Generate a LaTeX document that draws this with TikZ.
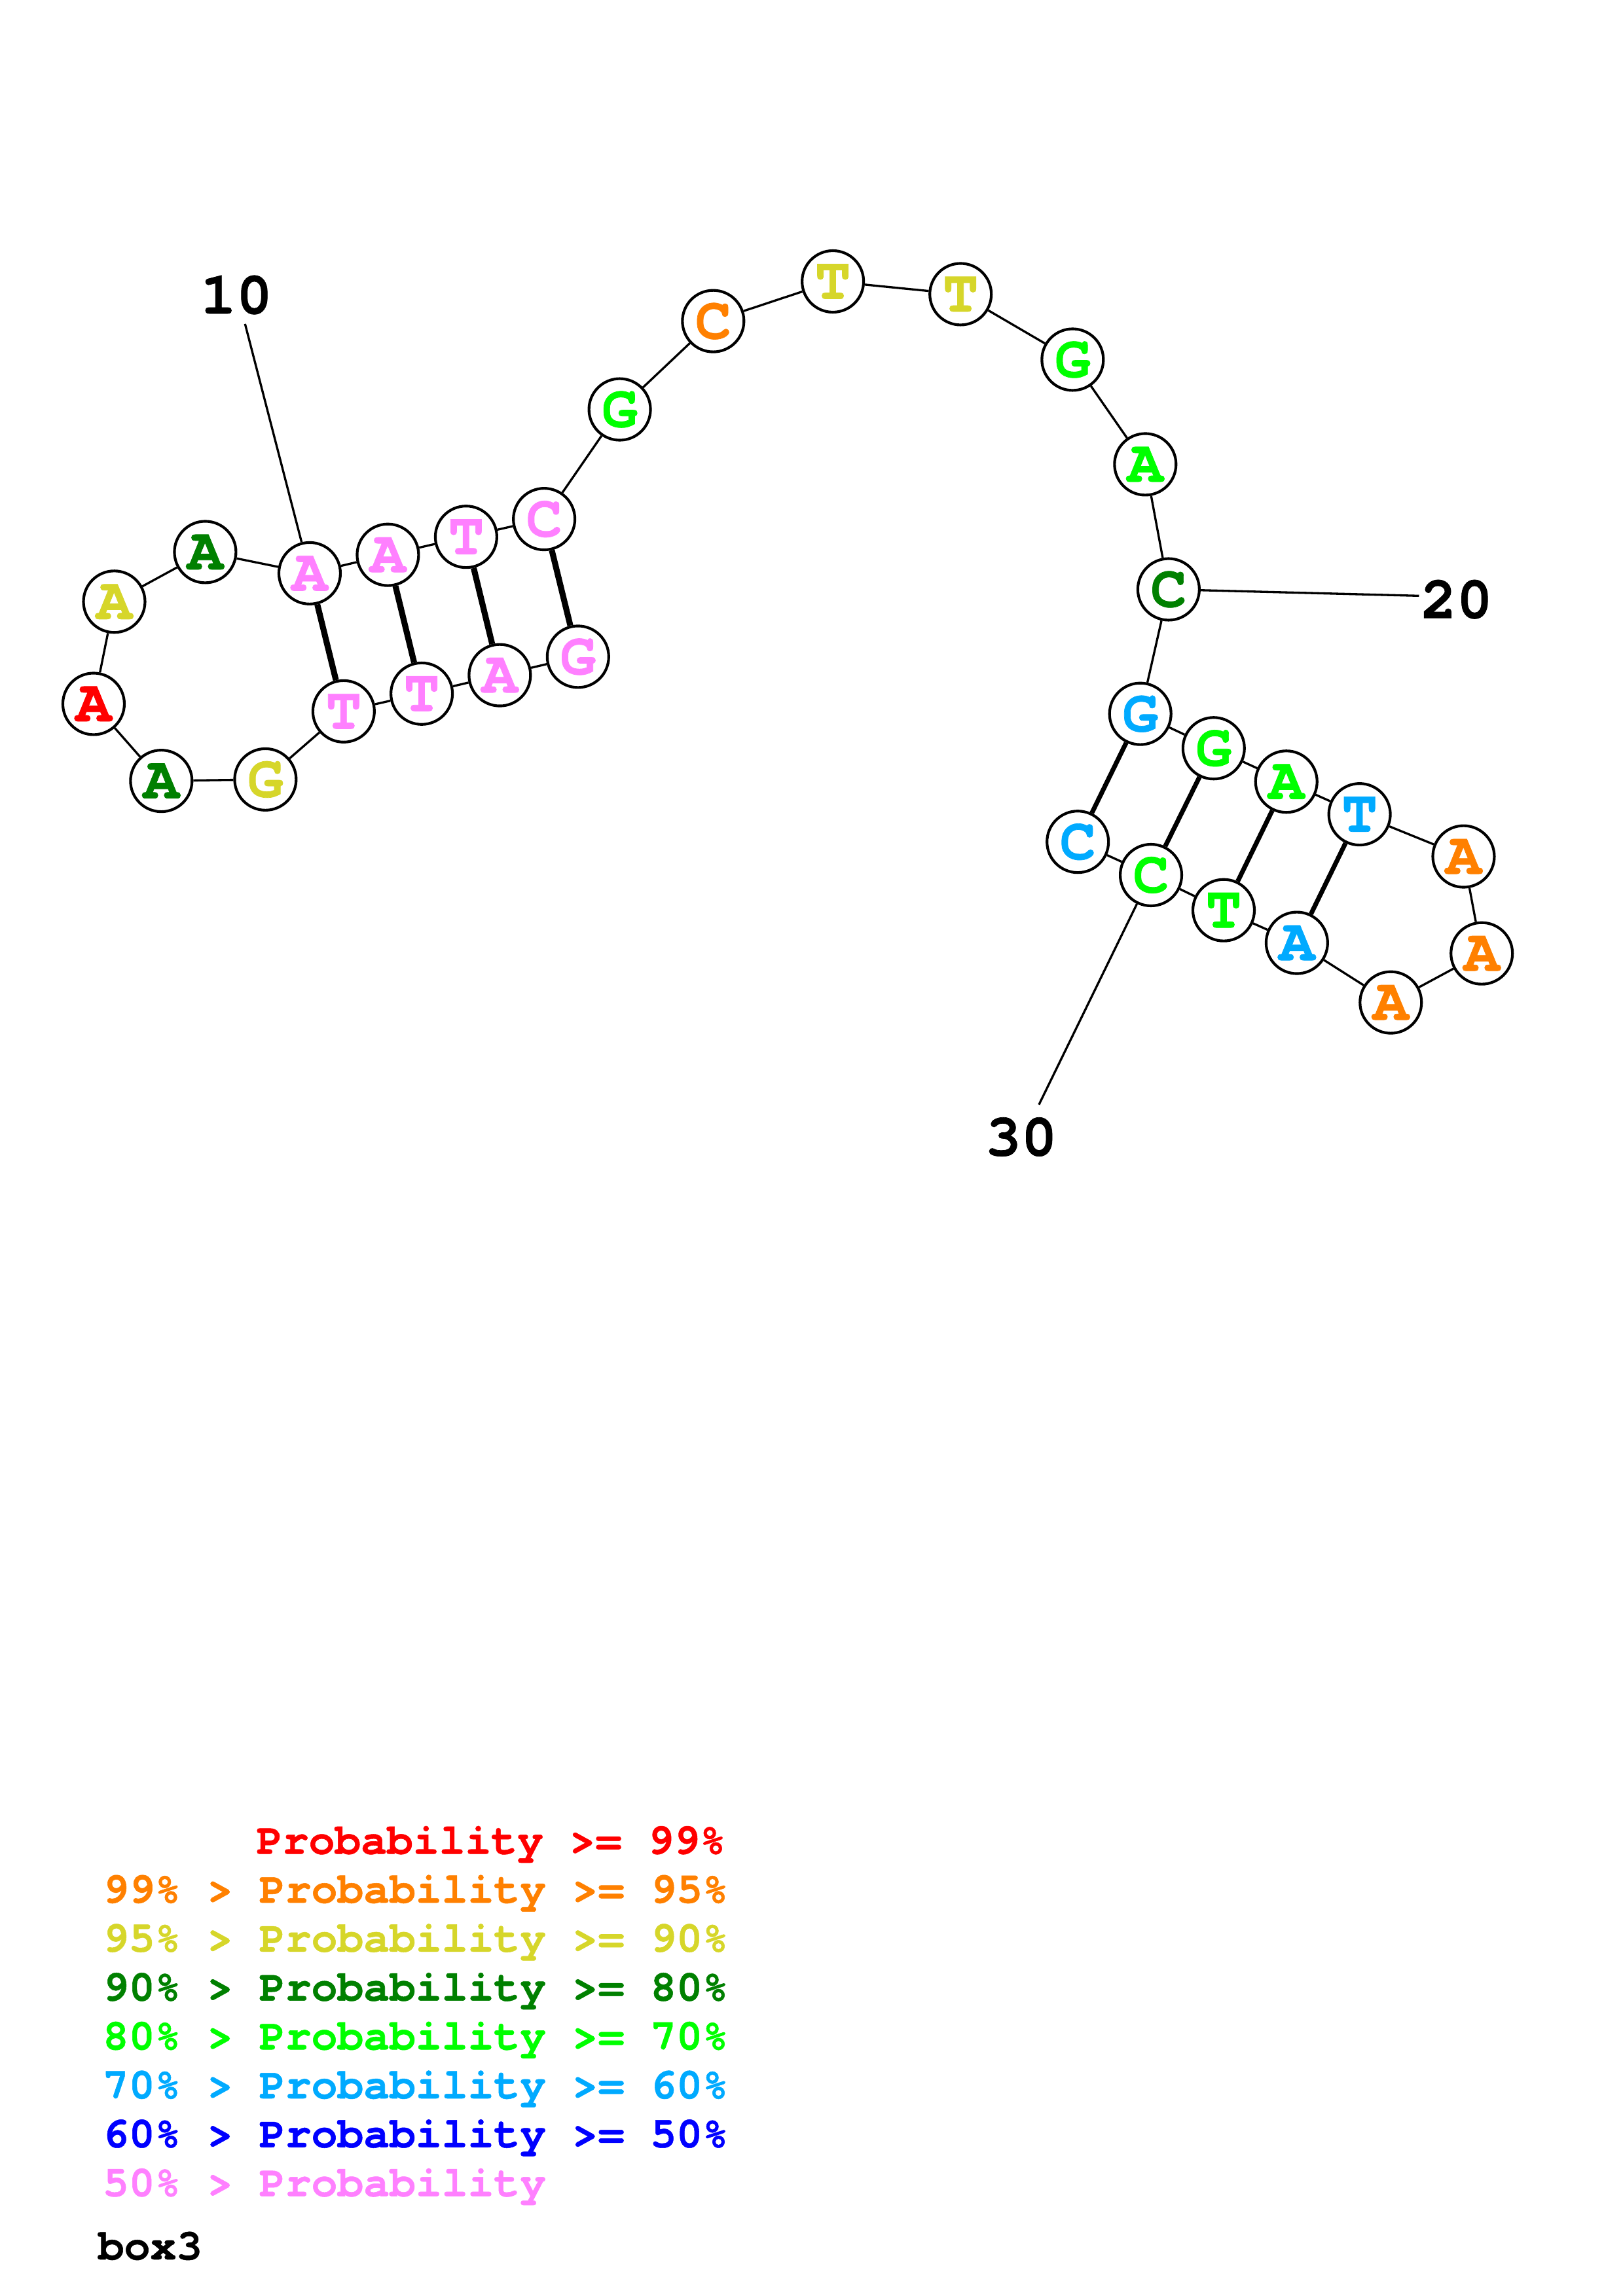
\documentclass[tikz,border=0pt]{standalone}
\usepackage{fontspec}
\usepackage{tikz}
\usepackage{xcolor}
\setmonofont{TeX Gyre Cursor}[BoldFeatures={FakeBold=0.8}]

\definecolor{pr99}{RGB}{255,0,0}
\definecolor{pr95}{RGB}{255,128,0}
\definecolor{pr90}{RGB}{214,214,42}
\definecolor{pr80}{RGB}{0,128,0}
\definecolor{pr70}{RGB}{0,255,0}
\definecolor{pr60}{RGB}{0,170,255}
\definecolor{pr50}{RGB}{0,0,255}
\definecolor{prlow}{RGB}{255,128,255}

\tikzset{
  base/.style={circle, draw=black, line width=1pt, fill=white, minimum size=7.96mm,
    inner sep=0pt, font=\ttfamily\bfseries\fontsize{22}{22}\selectfont},
  backbone/.style={line width=0.8pt},
  pairA/.style={line width=2.2pt},
  pairB/.style={line width=1.7pt},
  numlabel/.style={font=\ttfamily\bfseries\fontsize{22}{22}\selectfont},
  legend/.style={anchor=base west, inner sep=0pt, font=\ttfamily\bfseries\fontsize{16}{16}\selectfont}
}

\begin{document}
\begin{tikzpicture}[x=0.18953mm,y=-0.18953mm]
  \useasboundingbox (0,0) rectangle (1108,1568);
  % Bases, 5' end first
  \node[base, text=prlow] (n1) at (394.6,448.5) {G};
  \node[base, text=prlow] (n2) at (341.2,461.1) {A};
  \node[base, text=prlow] (n3) at (287.9,473.7) {T};
  \node[base, text=prlow] (n4) at (234.6,485.8) {T};
  \node[base, text=pr90] (n5) at (181.2,532.3) {G};
  \node[base, text=pr80] (n6) at (110.1,533.3) {A};
  \node[base, text=pr99] (n7) at (63.9,480.7) {A};
  \node[base, text=pr90] (n8) at (78.0,410.9) {A};
  \node[base, text=pr80] (n9) at (140.1,377.0) {A};
  \node[base, text=prlow] (n10) at (211.4,391.5) {A};
  \node[base, text=prlow] (n11) at (264.8,378.9) {A};
  \node[base, text=prlow] (n12) at (318.2,366.6) {T};
  \node[base, text=prlow] (n13) at (371.5,354.5) {C};
  \node[base, text=pr70] (n14) at (423.1,279.6) {G};
  \node[base, text=pr95] (n15) at (486.9,219.3) {C};
  \node[base, text=pr90] (n16) at (568.6,192.2) {T};
  \node[base, text=pr90] (n17) at (655.8,200.9) {T};
  \node[base, text=pr70] (n18) at (732.3,245.6) {G};
  \node[base, text=pr70] (n19) at (781.9,317.1) {A};
  \node[base, text=pr80] (n20) at (797.8,402.5) {C};
  \node[base, text=pr60] (n21) at (778.5,487.5) {G};
  \node[base, text=pr70] (n22) at (828.6,511.0) {G};
  \node[base, text=pr70] (n23) at (878.2,533.8) {A};
  \node[base, text=pr60] (n24) at (928.2,556.1) {T};
  \node[base, text=pr95] (n25) at (999.2,584.9) {A};
  \node[base, text=pr95] (n26) at (1011.6,651.1) {A};
  \node[base, text=pr95] (n27) at (949.5,684.6) {A};
  \node[base, text=pr60] (n28) at (885.4,643.9) {A};
  \node[base, text=pr70] (n29) at (835.4,621.6) {T};
  \node[base, text=pr70] (n30) at (785.8,597.6) {C};
  \node[base, text=pr60] (n31) at (735.8,574.9) {C};
  % Backbone
  \draw[backbone] (n1) -- (n2) -- (n3) -- (n4) -- (n5) -- (n6) -- (n7) -- (n8)
    -- (n9) -- (n10) -- (n11) -- (n12) -- (n13) -- (n14) -- (n15) -- (n16)
    -- (n17) -- (n18) -- (n19) -- (n20) -- (n21) -- (n22) -- (n23) -- (n24)
    -- (n25) -- (n26) -- (n27) -- (n28) -- (n29) -- (n30) -- (n31);
  % Pairs
  \draw[pairA] (n1) -- (n13);
  \draw[pairA] (n2) -- (n12);
  \draw[pairA] (n3) -- (n11);
  \draw[pairA] (n4) -- (n10);
  \draw[pairB] (n21) -- (n31);
  \draw[pairB] (n22) -- (n30);
  \draw[pairB] (n23) -- (n29);
  \draw[pairB] (n24) -- (n28);
  % Numbering
  \coordinate (t10) at (167.3,221.2);
  \coordinate (t20) at (968.8,406.9);
  \coordinate (t30) at (709.3,754.4);
  \draw[backbone] (n10) -- (t10);
  \draw[backbone] (n20) -- (t20);
  \draw[backbone] (n30) -- (t30);
  \node[numlabel] (l10) at (161.4,201.4) {10};
  \node[numlabel] (l20) at (994.5,409.3) {20};
  \node[numlabel] (l30) at (697.2,776.4) {30};
  % Legend
  \node[legend, text=pr99] (k1) at (174.8,1266) {Probability >= 99\%};
  \node[legend, text=pr95] (k2) at (69.8,1299.4) {99\% > Probability >= 95\%};
  \node[legend, text=pr90] (k3) at (69.8,1332.8) {95\% > Probability >= 90\%};
  \node[legend, text=pr80] (k4) at (69.8,1366.2) {90\% > Probability >= 80\%};
  \node[legend, text=pr70] (k5) at (69.8,1399.6) {80\% > Probability >= 70\%};
  \node[legend, text=pr60] (k6) at (69.8,1433.0) {70\% > Probability >= 60\%};
  \node[legend, text=pr50] (k7) at (69.8,1466.4) {60\% > Probability >= 50\%};
  \node[legend, text=prlow] (k8) at (69.8,1499.8) {50\% > Probability};
  \node[legend, text=black] (k9) at (66.6,1543) {box3};
\end{tikzpicture}
\end{document}
